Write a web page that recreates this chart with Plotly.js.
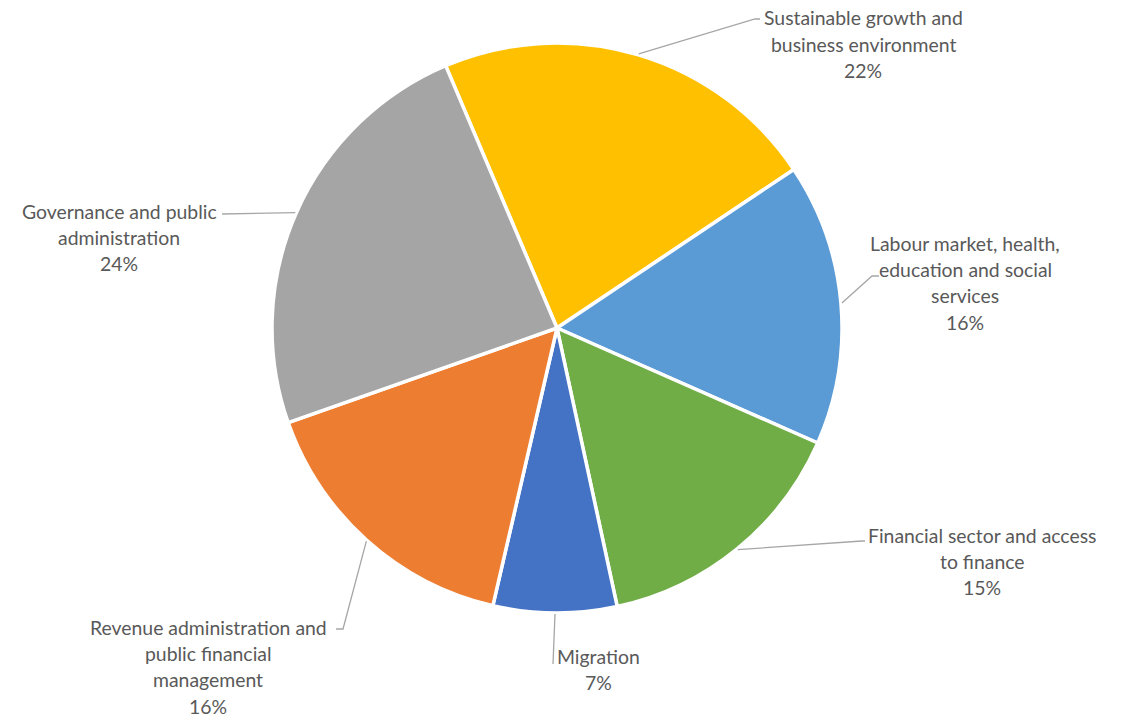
<!DOCTYPE html>
<html>
<head>
<meta charset="utf-8">
<script src="https://cdn.plot.ly/plotly-3.0.1.min.js"></script>
<style>html,body{margin:0;padding:0;background:#fff;}#chart{width:1122px;height:719px;}</style>
</head>
<body>
<div id="chart"></div>
<script>
// ---- data ----
const categories = [
  'Sustainable growth and business environment',
  'Labour market, health, education and social services',
  'Financial sector and access to finance',
  'Migration',
  'Revenue administration and public financial management',
  'Governance and public administration'
];
const shares = [22, 16, 15, 7, 16, 24];
const labelLines = [
  ['Sustainable growth and', 'business environment'],
  ['Labour market, health,', 'education and social', 'services'],
  ['Financial sector and access', 'to finance'],
  ['Migration'],
  ['Revenue administration and', 'public financial', 'management'],
  ['Governance and public', 'administration']
];
const colors = ['#FFC000', '#5B9BD5', '#70AD47', '#4472C4', '#ED7D31', '#A5A5A5'];

// ---- layout config (pixels) ----
const W = 1122, H = 719;
const pieCx = 557, pieCy = 328, pieR = 285;
const rotation = -23;
const lineGap = 26.4;
const labelCfg = [
  {cx: 863, y0: 18,  elbow: [755, 19],  end: [760, 19]},
  {cx: 965, y0: 243, elbow: [872, 276], end: [879, 276]},
  {cx: 982, y0: 535, elbow: [862, 541], end: [865, 541]},
  {cx: 598, y0: 656, elbow: [553, 664], end: [553, 664]},
  {cx: 208, y0: 627, elbow: [343, 629], end: [336, 629]},
  {cx: 119, y0: 211, elbow: [222, 214], end: [222, 214]}
];

const px = x => x / W;
const py = y => 1 - y / H;

const total = shares.reduce((a, b) => a + b, 0);
const annotations = [];
const shapes = [];
let acc = 0;
shares.forEach((v, i) => {
  const mid = rotation + (acc + v / 2) / total * 360;
  acc += v;
  const a = mid * Math.PI / 180;
  const sx = pieCx + (pieR + 1) * Math.sin(a);
  const sy = pieCy - (pieR + 1) * Math.cos(a);
  const c = labelCfg[i];
  shapes.push({
    type: 'path', xref: 'paper', yref: 'paper',
    path: `M ${px(sx)} ${py(sy)} L ${px(c.elbow[0])} ${py(c.elbow[1])} L ${px(c.end[0])} ${py(c.end[1])}`,
    line: {color: '#A6A6A6', width: 1.3}
  });
  const lines = labelLines[i].concat([Math.round(v / total * 100) + '%']);
  lines.forEach((t, k) => {
    annotations.push({
      xref: 'paper', yref: 'paper', x: px(c.cx), y: py(c.y0 + k * lineGap),
      xanchor: 'center', yanchor: 'middle', showarrow: false, text: t,
      font: {family: 'Lato, "Open Sans", sans-serif', size: 19.4, color: '#595959'}
    });
  });
});

const trace = {
  type: 'pie',
  labels: categories,
  values: shares,
  sort: false,
  direction: 'clockwise',
  rotation: rotation,
  textinfo: 'none',
  hoverinfo: 'label+percent',
  marker: {colors: colors, line: {color: '#FFFFFF', width: 3.5}},
  domain: {x: [px(pieCx - pieR), px(pieCx + pieR)], y: [py(pieCy + pieR), py(pieCy - pieR)]},
  showlegend: false
};

Plotly.newPlot('chart', [trace], {
  width: W, height: H,
  margin: {l: 0, r: 0, t: 0, b: 0},
  paper_bgcolor: '#FFFFFF',
  showlegend: false,
  annotations: annotations,
  shapes: shapes
}, {displayModeBar: false, staticPlot: true});
</script>
</body>
</html>
